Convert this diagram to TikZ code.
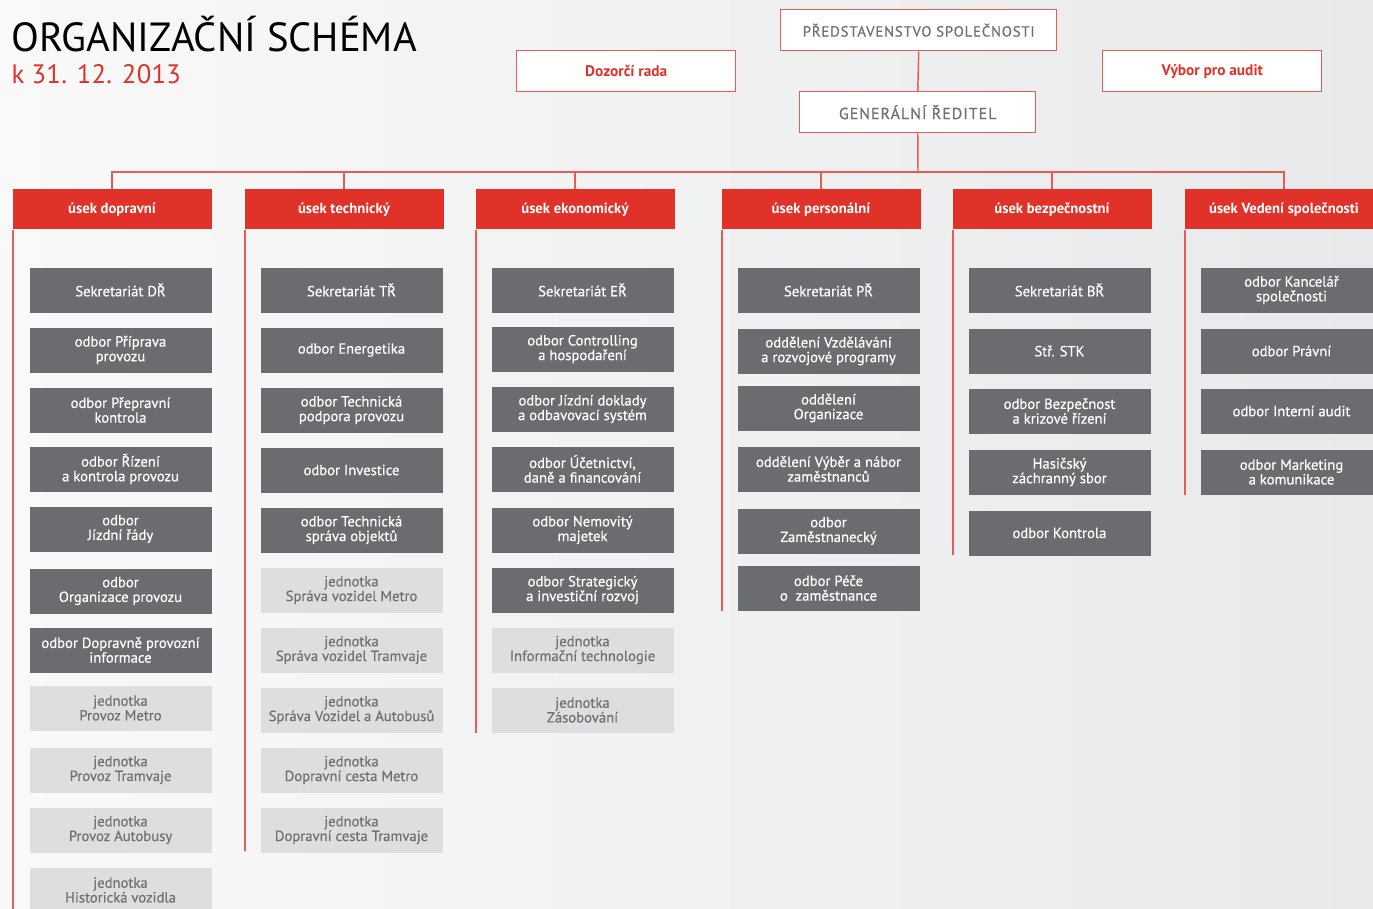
\documentclass[tikz,border=0pt]{standalone}
\usepackage{fontspec}
\setmainfont{PT Sans}
\usetikzlibrary{positioning}

\definecolor{hdred}{RGB}{224,50,41}
\definecolor{linered}{RGB}{232,92,85}
\definecolor{boxgray}{RGB}{107,108,112}
\definecolor{lightbox}{RGB}{221,222,224}
\definecolor{textgray}{RGB}{112,113,117}
\definecolor{bgleft}{RGB}{249,249,249}
\definecolor{bgright}{RGB}{232,233,234}

\newcommand\boxfont{\fontsize{11}{11}\selectfont\addfontfeature{FakeBold=0.6}}
\newcommand\hdfont{\fontsize{11}{11}\selectfont\bfseries}
\newcommand\spacedfont{\addfontfeature{LetterSpace=6,FakeBold=0.6}}

\tikzset{every picture/.style={line width=0.75pt}}
\tikzset{
  topbox/.style={draw=linered, line width=1.1pt, fill=white, minimum height=30.75pt, inner sep=0pt, anchor=north west},
  hdbox/.style={fill=hdred, text=white, font=\hdfont, minimum width=149.25pt, minimum height=30pt, inner sep=0pt, anchor=north west},
  odbor/.style={fill=boxgray, text=white, font=\boxfont, align=center, minimum width=136.5pt, minimum height=33.75pt, inner sep=0pt, anchor=north west},
  jednotka/.style={odbor, fill=lightbox, text=textgray},
  colline/.style={draw=linered, line width=1.1pt}
}

\begin{document}
\begin{tikzpicture}[x=0.75pt,y=0.75pt,yscale=-1,xscale=1]
% background
\shade [left color=bgleft, right color=bgright] (0,0) rectangle (1373,909);
\useasboundingbox (0,0) rectangle (1373,909);

% Title
\node (title) [anchor=base west, inner sep=0pt, font=\fontsize{30.5}{31}\selectfont] at (11,52) {ORGANIZAČNÍ SCHÉMA};
\node (date) [anchor=base west, inner sep=0pt, text=hdred, font=\fontsize{20}{20}\selectfont\addfontfeature{LetterSpace=1}] at (11,84) {k 31. 12. 2013};

% Top boxes
\node (pred) [topbox, minimum width=207pt, text=textgray, font=\fontsize{11}{11}\selectfont\spacedfont] at (780,9) {PŘEDSTAVENSTVO SPOLEČNOSTI};
\node (dozor) [topbox, minimum width=164.25pt, text=hdred, font=\fontsize{11.5}{12}\selectfont\bfseries] at (516,50) {Dozorčí rada};
\node (audit) [topbox, minimum width=164.25pt, text=hdred, font=\fontsize{11.5}{12}\selectfont\bfseries] at (1102,50) {Výbor pro audit};
\node (gr) [topbox, minimum width=177pt, text=textgray, font=\fontsize{12}{12}\selectfont\spacedfont] at (799,91) {GENERÁLNÍ ŘEDITEL};

% Headers
\node (hd1) [hdbox] at (12,189) {úsek dopravní};
\node (hd2) [hdbox] at (244,189) {úsek technický};
\node (hd3) [hdbox] at (475,189) {úsek ekonomický};
\node (hd4) [hdbox] at (721,189) {úsek personální};
\node (hd5) [hdbox] at (952,189) {úsek bezpečnostní};
\node (hd6) [hdbox] at (1184,189) {úsek Vedení společnosti};

% Connectors
\coordinate (bus) at (918,172);
\draw [colline] (pred.south) -- (gr.north);
\draw [colline] (gr.south) -- (bus);
\draw [colline] (hd1.north) -- (hd1.north |- bus) -- (hd6.north |- bus) -- (hd6.north);
\draw [colline] (hd2.north) -- (hd2.north |- bus);
\draw [colline] (hd3.north) -- (hd3.north |- bus);
\draw [colline] (hd4.north) -- (hd4.north |- bus);
\draw [colline] (hd5.north) -- (hd5.north |- bus);

% Column lines
\coordinate (end1) at (13,909);
\coordinate (end2) at (245,851);
\coordinate (end3) at (476,733);
\coordinate (end4) at (722,611);
\coordinate (end5) at (953,555);
\coordinate (end6) at (1185,495);
\draw [colline] ([xshift=0.75pt]hd1.south west) -- (end1);
\draw [colline] ([xshift=0.75pt]hd2.south west) -- (end2);
\draw [colline] ([xshift=0.75pt]hd3.south west) -- (end3);
\draw [colline] ([xshift=0.75pt]hd4.south west) -- (end4);
\draw [colline] ([xshift=0.75pt]hd5.south west) -- (end5);
\draw [colline] ([xshift=0.75pt]hd6.south west) -- (end6);

% úsek dopravní
\node (dp1) [odbor] at (29,267) {Sekretariát DŘ};
\node (dp2) [odbor] at (29,327) {odbor Příprava\\provozu};
\node (dp3) [odbor] at (29,387) {odbor Přepravní\\kontrola};
\node (dp4) [odbor] at (29,446) {odbor Řízení\\a kontrola provozu};
\node (dp5) [odbor] at (29,506) {odbor\\Jízdní řády};
\node (dp6) [odbor] at (29,568) {odbor\\Organizace provozu};
\node (dp7) [odbor] at (29,627) {odbor Dopravně provozní\\informace};
\node (dp8) [jednotka] at (29,685) {jednotka\\Provoz Metro};
\node (dp9) [jednotka] at (29,747) {jednotka\\Provoz Tramvaje};
\node (dp10) [jednotka] at (29,807) {jednotka\\Provoz Autobusy};
\node (dp11) [jednotka] at (29,867) {jednotka\\Historická vozidla};

% úsek technický
\node (tc1) [odbor] at (260,267) {Sekretariát TŘ};
\node (tc2) [odbor] at (260,327) {odbor Energetika};
\node (tc3) [odbor] at (260,387) {odbor Technická\\podpora provozu};
\node (tc4) [odbor] at (260,447) {odbor Investice};
\node (tc5) [odbor] at (260,507) {odbor Technická\\správa objektů};
\node (tc6) [jednotka] at (260,567) {jednotka\\Správa vozidel Metro};
\node (tc7) [jednotka] at (260,627) {jednotka\\Správa vozidel Tramvaje};
\node (tc8) [jednotka] at (260,687) {jednotka\\Správa Vozidel a Autobusů};
\node (tc9) [jednotka] at (260,747) {jednotka\\Dopravní cesta Metro};
\node (tc10) [jednotka] at (260,807) {jednotka\\Dopravní cesta Tramvaje};

% úsek ekonomický
\node (ek1) [odbor] at (491,267) {Sekretariát EŘ};
\node (ek2) [odbor] at (491,326) {odbor Controlling\\a hospodaření};
\node (ek3) [odbor] at (491,386) {odbor Jízdní doklady\\a odbavovací systém};
\node (ek4) [odbor] at (491,446) {odbor Účetnictví,\\daně a financování};
\node (ek5) [odbor] at (491,507) {odbor Nemovitý\\majetek};
\node (ek6) [odbor] at (491,567) {odbor Strategický\\a investiční rozvoj};
\node (ek7) [jednotka] at (491,627) {jednotka\\Informační technologie};
\node (ek8) [jednotka] at (491,687) {jednotka\\Zásobování};

% úsek personální
\node (pe1) [odbor] at (737,267) {Sekretariát PŘ};
\node (pe2) [odbor] at (737,328) {oddělení Vzdělávání\\a rozvojové programy};
\node (pe3) [odbor] at (737,385) {oddělení\\Organizace};
\node (pe4) [odbor] at (737,446) {oddělení Výběr a nábor\\zaměstnanců};
\node (pe5) [odbor] at (737,508) {odbor\\Zaměstnanecký};
\node (pe6) [odbor] at (737,565) {odbor Péče\\o\ \ zaměstnance};

% úsek bezpečnostní
\node (bz1) [odbor] at (968,267) {Sekretariát BŘ};
\node (bz2) [odbor] at (968,328) {Stř. STK};
\node (bz3) [odbor] at (968,388) {odbor Bezpečnost\\a krizové řízení};
\node (bz4) [odbor] at (968,449) {Hasičský\\záchranný sbor};
\node (bz5) [odbor] at (968,510) {odbor Kontrola};

% úsek Vedení společnosti
\node (ve1) [odbor] at (1200,267) {odbor Kancelář\\společnosti};
\node (ve2) [odbor] at (1200,328) {odbor Právní};
\node (ve3) [odbor] at (1200,388) {odbor Interní audit};
\node (ve4) [odbor] at (1200,449) {odbor Marketing\\a komunikace};

\end{tikzpicture}
\end{document}
